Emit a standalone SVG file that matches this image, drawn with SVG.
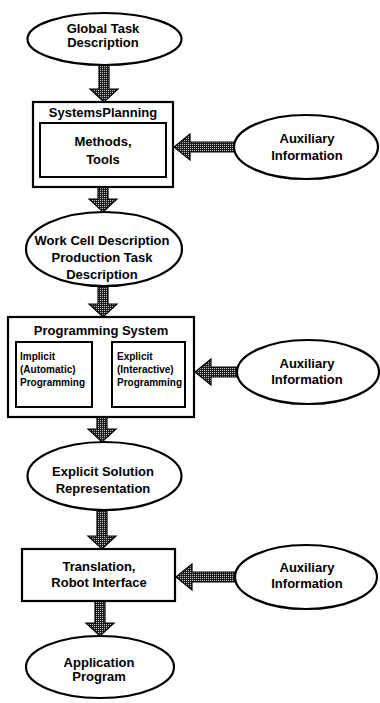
<svg xmlns="http://www.w3.org/2000/svg" width="380" height="703" viewBox="0 0 380 703">
  <style>
    .node { fill: #fff; stroke: #000; stroke-width: 2.2; }
    .inner { fill: #fff; stroke: #000; stroke-width: 2; }
    .lbl { font-family: "Liberation Sans", Arial, sans-serif; font-weight: bold; font-size: 13px; fill: #000; text-anchor: middle; }
    .sm { font-family: "Liberation Sans", Arial, sans-serif; font-weight: bold; font-size: 10px; fill: #000; }
    .arrow { fill: url(#dither); stroke: #000; stroke-width: 1.2; stroke-linejoin: miter; }
  </style>
  <defs>
    <!-- stippled fill for the thick flow arrows -->
    <pattern id="dither" width="2" height="2" patternUnits="userSpaceOnUse">
      <rect width="2" height="2" fill="#1c1c1c"/>
      <rect width="1" height="1" fill="#c8c8c8"/>
    </pattern>
  </defs>
  <rect width="380" height="703" fill="#fff"/>

  <!-- connectors -->
  <g id="connectors">
    <path class="arrow" d="M99,65 L109,65 L109,89 L118,89 L104,102 L90,89 L99,89 Z"/>
    <path class="arrow" d="M98,187 L108,187 L108,199 L117,199 L103,212 L89,199 L98,199 Z"/>
    <path class="arrow" d="M98,286 L108,286 L108,304 L117,304 L103,317 L89,304 L98,304 Z"/>
    <path class="arrow" d="M97,417 L107,417 L107,429 L116,429 L102,442 L88,429 L97,429 Z"/>
    <path class="arrow" d="M97,510 L107,510 L107,536 L116,536 L102,549 L88,536 L97,536 Z"/>
    <path class="arrow" d="M95,601 L105,601 L105,623 L114,623 L100,636 L86,623 L95,623 Z"/>
    <path class="arrow" d="M234,142 L234,152 L190,152 L190,160 L174,147 L190,134 L190,142 Z"/>
    <path class="arrow" d="M237,367 L237,377 L211,377 L211,385 L195,372 L211,359 L211,367 Z"/>
    <path class="arrow" d="M235,572 L235,582 L192,582 L192,590 L176,577 L192,564 L192,572 Z"/>
  </g>

  <g id="global-task">
    <ellipse class="node" cx="104.5" cy="39" rx="77" ry="26"/>
    <text class="lbl" x="103" y="33">Global Task</text>
    <text class="lbl" x="103" y="47">Description</text>
  </g>

  <g id="systems-planning">
    <rect class="node" x="33" y="102" width="140" height="85"/>
    <text class="lbl" x="103" y="117">SystemsPlanning</text>
    <rect class="inner" x="40" y="123" width="126" height="54"/>
    <text class="lbl" x="103" y="146">Methods,</text>
    <text class="lbl" x="103" y="164">Tools</text>
  </g>

  <g id="aux-1">
    <ellipse class="node" cx="306" cy="147" rx="72" ry="32"/>
    <text class="lbl" x="307" y="143">Auxiliary</text>
    <text class="lbl" x="307" y="160">Information</text>
  </g>

  <g id="work-cell">
    <ellipse class="node" cx="104" cy="249" rx="78" ry="37"/>
    <text class="lbl" x="102" y="245">Work Cell Description</text>
    <text class="lbl" x="102" y="262">Production Task</text>
    <text class="lbl" x="102" y="279">Description</text>
  </g>

  <g id="programming-system">
    <rect class="node" x="8" y="317" width="186" height="100"/>
    <text class="lbl" x="101" y="335">Programming System</text>
    <rect class="inner" x="16" y="342" width="76" height="65"/>
    <text class="sm" x="20" y="360">Implicit</text>
    <text class="sm" x="20" y="373">(Automatic)</text>
    <text class="sm" x="20" y="386">Programming</text>
    <rect class="inner" x="112" y="342" width="73" height="65"/>
    <text class="sm" x="117" y="360">Explicit</text>
    <text class="sm" x="117" y="373">(Interactive)</text>
    <text class="sm" x="117" y="386">Programming</text>
  </g>

  <g id="aux-2">
    <ellipse class="node" cx="308" cy="372" rx="71" ry="32"/>
    <text class="lbl" x="307" y="368">Auxiliary</text>
    <text class="lbl" x="307" y="384">Information</text>
  </g>

  <g id="explicit-solution">
    <ellipse class="node" cx="104.5" cy="476" rx="77" ry="34"/>
    <text class="lbl" x="103" y="476">Explicit Solution</text>
    <text class="lbl" x="103" y="493">Representation</text>
  </g>

  <g id="translation">
    <rect class="node" x="22" y="549" width="153" height="52"/>
    <text class="lbl" x="99" y="571">Translation,</text>
    <text class="lbl" x="99" y="587">Robot Interface</text>
  </g>

  <g id="aux-3">
    <ellipse class="node" cx="306" cy="577" rx="71" ry="32"/>
    <text class="lbl" x="307" y="572">Auxiliary</text>
    <text class="lbl" x="307" y="588">Information</text>
  </g>

  <g id="application-program">
    <ellipse class="node" cx="100" cy="667" rx="74" ry="31"/>
    <text class="lbl" x="99" y="667">Application</text>
    <text class="lbl" x="99" y="681">Program</text>
  </g>
</svg>
